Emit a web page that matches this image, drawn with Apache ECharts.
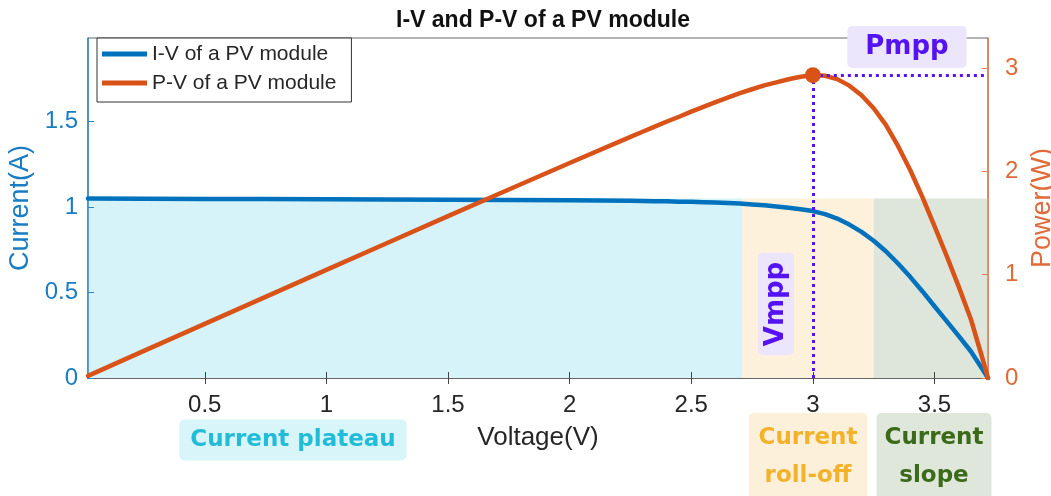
<!DOCTYPE html>
<html>
<head>
<meta charset="utf-8">
<title>I-V and P-V of a PV module</title>
<script src="https://cdn.jsdelivr.net/npm/echarts@6/dist/echarts.min.js"></script>
<style>
  html, body { margin: 0; padding: 0; background: #fff; }
  #chart { width: 1051px; height: 496px; }
</style>
</head>
<body>
<div id="chart"></div>
<script>
// Measured sweep of the module: voltage (V), current (A), power (W)
const voltage = [0.02, 0.25, 0.5, 0.75, 1.0, 1.25, 1.5, 1.75, 2.0, 2.25, 2.3, 2.35, 2.4, 2.45, 2.5, 2.55, 2.6, 2.65,
                 2.7, 2.75, 2.8, 2.85, 2.9, 2.95, 3.0, 3.05, 3.1, 3.15, 3.2, 3.25, 3.3, 3.35, 3.4, 3.45, 3.5,
                 3.55, 3.6, 3.65, 3.7, 3.72];
const current = [1.050, 1.049, 1.048, 1.047, 1.046, 1.045, 1.044, 1.042, 1.040, 1.037, 1.036, 1.035, 1.034, 1.032,
                 1.031, 1.029, 1.027, 1.024, 1.021, 1.016, 1.011, 1.004, 0.997, 0.988, 0.977, 0.959, 0.933, 0.898,
                 0.855, 0.803, 0.742, 0.670, 0.592, 0.508, 0.420, 0.333, 0.245, 0.155, 0.045, 0];
const power   = [0.021, 0.262, 0.524, 0.785, 1.046, 1.306, 1.566, 1.824, 2.080, 2.333, 2.383, 2.432, 2.482, 2.528,
                 2.578, 2.624, 2.670, 2.714, 2.757, 2.794, 2.831, 2.861, 2.891, 2.915, 2.931, 2.925, 2.892, 2.829,
                 2.736, 2.610, 2.449, 2.245, 2.013, 1.753, 1.470, 1.182, 0.882, 0.566, 0.167, 0];

// Maximum power point
const vmpp = 3.0;
const pmpp = 2.93;

// Operating regions along the voltage axis and their height on the current axis
const regionNames = ['Current plateau', 'Current roll-off', 'Current slope'];
const regionBounds = [0.02, 2.71, 3.25, 3.72];
const regionTop = 1.05;

// Tick labels
const voltageTicks = [0.5, 1, 1.5, 2, 2.5, 3, 3.5];
const currentTicks = [0, 0.5, 1, 1.5];
const powerTicks = [0, 1, 2, 3];

const BLUE = '#0072BD';
const ORANGE = '#D95319';
const MARK = '#5512F2';
const regionFill = ['#d5f3f8', '#fdf1dc', '#dee6db'];

const ivData = voltage.map((v, i) => [v, current[i]]);
const pvData = voltage.map((v, i) => [v, power[i]]);

const onTicks = (list) => (v) => list.some(t => Math.abs(t - v) < 1e-6) ? String(v) : '';

const chart = echarts.init(document.getElementById('chart'));

const option = {
  animation: false,
  backgroundColor: '#fff',
  textStyle: { fontFamily: 'Liberation Sans, Arial, sans-serif' },
  title: {
    text: 'I-V and P-V of a PV module',
    left: 538, top: 4, textAlign: 'center',
    textStyle: { fontSize: 23, fontWeight: 'bold', color: '#111', fontFamily: 'Liberation Sans, Arial, sans-serif' }
  },
  legend: {
    data: ['I-V of a PV module', 'P-V of a PV module'],
    orient: 'vertical',
    left: 97, top: 38,
    icon: 'rect', itemWidth: 45, itemHeight: 5, itemGap: 7,
    padding: [5, 15, 8, 5],
    backgroundColor: '#fff',
    borderColor: '#333', borderWidth: 1,
    textStyle: { fontSize: 21, lineHeight: 22, color: '#262626', fontFamily: 'Liberation Sans, Arial, sans-serif' }
  },
  grid: {
    left: 88, right: 63, top: 38, bottom: 118,
    outerBoundsMode: 'none',
    containLabel: false,
    show: true, borderColor: '#666', borderWidth: 1, backgroundColor: 'transparent'
  },
  xAxis: [{
    type: 'value',
    min: voltage[0], max: voltage[voltage.length - 1],
    splitNumber: 7,
    name: 'Voltage(V)', nameLocation: 'middle', nameGap: 47,
    nameTextStyle: { fontSize: 26, color: '#262626' },
    axisLine: { show: true, lineStyle: { color: '#555', width: 1 } },
    axisTick: { show: true, inside: true, length: 6, lineStyle: { color: '#444' }, customValues: voltageTicks },
    axisLabel: { fontSize: 24, color: '#262626', margin: 15, formatter: onTicks(voltageTicks), customValues: voltageTicks },
    splitLine: { show: false }
  }, {
    type: 'value', position: 'top',
    min: voltage[0], max: voltage[voltage.length - 1],
    splitNumber: 7,
    axisLine: { show: true, lineStyle: { color: '#666', width: 1 } },
    axisTick: { show: true, inside: true, length: 6, lineStyle: { color: '#444' }, customValues: voltageTicks },
    axisLabel: { show: false },
    splitLine: { show: false }
  }],
  yAxis: [{
    type: 'value', position: 'left',
    min: 0, max: 1.99, interval: 0.5,
    name: 'Current(A)', nameLocation: 'middle', nameGap: 52,
    nameTextStyle: { fontSize: 27, color: '#1a7dc4' },
    axisLine: { show: true, lineStyle: { color: '#2a87c9', width: 1.5 } },
    axisTick: { show: true, inside: true, length: 6, lineStyle: { color: '#2a87c9' } },
    axisLabel: { fontSize: 24, color: '#1a7dc4', margin: 10, formatter: onTicks(currentTicks), showMaxLabel: false },
    splitLine: { show: false }
  }, {
    type: 'value', position: 'right',
    min: 0, max: 3.29, interval: 1,
    name: 'Power(W)', nameLocation: 'middle', nameGap: 38,
    nameTextStyle: { fontSize: 27, color: '#e06a38' },
    axisLine: { show: true, lineStyle: { color: '#e77a4d', width: 1.5 } },
    axisTick: { show: true, inside: true, length: 6, lineStyle: { color: '#e77a4d' } },
    axisLabel: { fontSize: 24, color: '#e06a38', margin: 17, formatter: onTicks(powerTicks), showMaxLabel: false },
    splitLine: { show: false }
  }],
  series: [{
    name: 'I-V of a PV module',
    type: 'line', xAxisIndex: 0, yAxisIndex: 0,
    data: ivData,
    color: BLUE,
    symbol: 'none', showSymbol: false,
    lineStyle: { color: BLUE, width: 4.5, join: 'round', cap: 'round' },
    z: 3,
    markArea: {
      silent: true,
      z: 0,
      data: regionNames.map((name, i) => [
        { xAxis: regionBounds[i], yAxis: 0, itemStyle: { color: regionFill[i] } },
        { xAxis: regionBounds[i + 1], yAxis: regionTop }
      ])
    }
  }, {
    name: 'P-V of a PV module',
    type: 'line', xAxisIndex: 0, yAxisIndex: 1,
    data: pvData,
    color: ORANGE,
    symbol: 'none', showSymbol: false,
    lineStyle: { color: ORANGE, width: 4.5, join: 'round', cap: 'round' },
    z: 4,
    markLine: {
      silent: true,
      symbol: 'none',
      label: { show: false },
      lineStyle: { color: MARK, width: 3, type: [3, 4] },
      data: [
        [{ coord: [vmpp, 0] }, { coord: [vmpp, pmpp] }],
        [{ coord: [vmpp, pmpp] }, { coord: [voltage[voltage.length - 1], pmpp] }]
      ]
    }
  }, {
    name: 'MPP',
    type: 'scatter', xAxisIndex: 0, yAxisIndex: 1,
    data: [[vmpp, pmpp]],
    symbol: 'circle', symbolSize: 16,
    itemStyle: { color: ORANGE, opacity: 1 },
    z: 6
  }],
  graphic: [
    {
      type: 'text', x: 907, y: 47, z: 100,
      style: {
        text: 'Pmpp', fill: MARK, font: 'bold 26px "DejaVu Sans", sans-serif',
        align: 'center', verticalAlign: 'middle',
        backgroundColor: '#ece6fc', padding: [8, 18, 8, 18], borderRadius: 5
      }
    },
    {
      type: 'text', x: 776, y: 304, rotation: Math.PI / 2, z: 100,
      style: {
        text: 'Vmpp', fill: MARK, font: 'bold 26px "DejaVu Sans", sans-serif',
        align: 'center', verticalAlign: 'middle',
        backgroundColor: '#ece6fc', padding: [5, 9, 5, 9], borderRadius: 5
      }
    },
    {
      type: 'text', x: 293, y: 440, z: 100,
      style: {
        text: 'Current plateau', fill: '#22bcd8', font: 'bold 23px "DejaVu Sans", sans-serif',
        align: 'center', verticalAlign: 'middle',
        backgroundColor: '#d8f5f9', padding: [9, 11, 9, 11], borderRadius: 5
      }
    },
    {
      type: 'text', x: 808, y: 457, z: 100,
      style: {
        text: 'Current\nroll-off', fill: '#f2b22a', font: 'bold 23px "DejaVu Sans", sans-serif',
        lineHeight: 38, align: 'center', verticalAlign: 'middle',
        backgroundColor: '#fdf0da', padding: [6, 10, 6, 10], borderRadius: 5
      }
    },
    {
      type: 'text', x: 934, y: 457, z: 100,
      style: {
        text: 'Current\nslope', fill: '#3a6a1a', font: 'bold 23px "DejaVu Sans", sans-serif',
        lineHeight: 38, align: 'center', verticalAlign: 'middle',
        backgroundColor: '#dfe6da', padding: [6, 8, 6, 8], borderRadius: 5
      }
    }
  ]
};

chart.setOption(option);
</script>
</body>
</html>
